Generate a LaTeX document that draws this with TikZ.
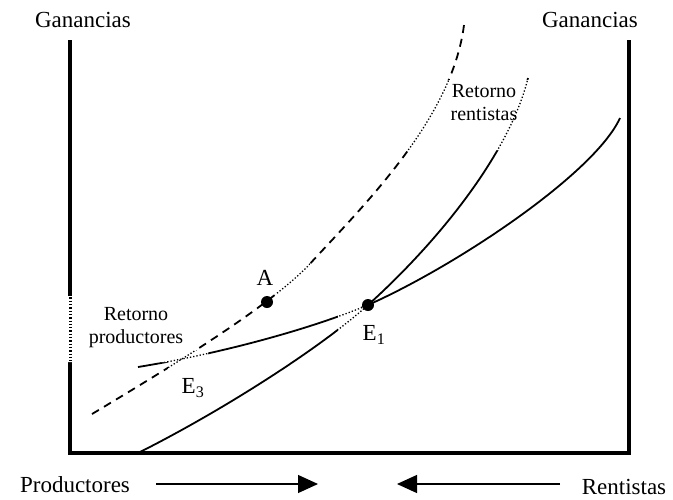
\documentclass[tikz,border=0pt]{standalone}
\usepackage{fontspec}
\setmainfont{Liberation Serif}
\usetikzlibrary{arrows.meta}
\newcommand\pathDash{(92,414) .. controls (162,372) and (262,312) .. (307,267) .. controls (362,207) and (452,120) .. (464,25)}
\newcommand\pathTwo{(138,453) .. controls (218,413) and (318,350) .. (368,305) .. controls (440,240) and (510,152) .. (528,78)}
\newcommand\pathThree{(138,367) .. controls (218,354) and (308,330) .. (368,305) .. controls (458,265) and (595,173) .. (620,118)}
\newcommand\hidboxes{(400,80) rectangle (535,150) (250,262) rectangle (310,294) (60,296) rectangle (175,362) (168,350) rectangle (208,372) (338,307) rectangle (366,340)}
\begin{document}
\begin{tikzpicture}[x=1pt,y=-1pt,
  axis/.style={line width=3.2pt, line join=miter},
  curve/.style={line width=1.8pt},
  dashcurve/.style={line width=1.8pt, dash pattern=on 8pt off 6pt},
  hidden/.style={line width=1.3pt, dotted},
  big/.style={font=\fontsize{23}{26}\selectfont, inner sep=0pt},
  small/.style={font=\fontsize{20}{23}\selectfont, inner sep=0pt, align=center},
  dot/.style={circle, fill=black, minimum size=12pt, inner sep=0pt},
  flow/.style={line width=1.2pt, -{Triangle[length=20pt,width=18pt]}}]
\useasboundingbox (0,0) rectangle (673,499);
% curves
\draw[dashcurve] \pathDash;
\draw[curve] \pathTwo;
\draw[curve] \pathThree;
% axes
\coordinate (lt) at (70,40);
\coordinate (lb) at (70,453);
\coordinate (rb) at (629,453);
\coordinate (rt) at (629,40);
\draw[axis] (lt) -- (lb) -- (rb) -- (rt);
% parts hidden behind label boxes, shown dotted
\fill[white] \hidboxes;
\begin{scope}
  \clip \hidboxes;
  \draw[hidden] \pathDash;
  \draw[hidden] \pathTwo;
  \draw[hidden] \pathThree;
  \draw[hidden, line width=3pt] (lt) -- (lb);
\end{scope}
% points
\node[dot] (A) at (267,302) {};
\node[dot] (E1) at (368,305) {};
% labels
\node[big] (gl) at (83,20) {Ganancias};
\node[big] (gr) at (590,20) {Ganancias};
\node[big] (lA) at (265,278) {A};
\node[big] (lE1) at (374,335) {E\textsubscript{1}};
\node[big] (lE3) at (193,388) {E\textsubscript{3}};
\node[small] (rp) at (136,328) {Retorno\\productores};
\node[small] (rr) at (484,103) {Retorno\\rentistas};
\node[big] (prod) at (75,485) {Productores};
\node[big] (rent) at (624,487) {Rentistas};
% arrows
\coordinate (pa) at (156,484);
\coordinate (pb) at (318,484);
\coordinate (ra) at (560,484);
\coordinate (rbb) at (397,484);
\draw[flow] (pa) -- (pb);
\draw[flow] (ra) -- (rbb);
\end{tikzpicture}
\end{document}
